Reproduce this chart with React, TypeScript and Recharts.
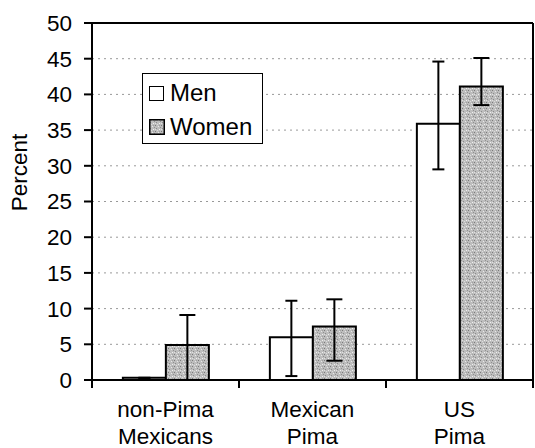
import React from 'react';
import { BarChart, Bar, XAxis, YAxis, CartesianGrid, ErrorBar, ReferenceLine } from 'recharts';

const categories = ['non-Pima\nMexicans', 'Mexican\nPima', 'US\nPima'];
const menValues = [0.3, 6.0, 35.9];
const womenValues = [4.9, 7.5, 41.1];
const menLow = [0.3, 0.55, 29.5];
const menHigh = [0.3, 11.1, 44.6];
const womenLow = [0, 2.7, 38.5];
const womenHigh = [9.1, 11.3, 45.1];
const yTicks = [0, 5, 10, 15, 20, 25, 30, 35, 40, 45, 50];

const data = categories.map((c, i) => ({
  name: c,
  men: menValues[i],
  women: womenValues[i],
  menErr: [menValues[i] - menLow[i], menHigh[i] - menValues[i]],
  womenErr: [womenValues[i] - womenLow[i], womenHigh[i] - womenValues[i]],
}));

const FONT = '"Liberation Sans", Arial, sans-serif';

const CatTick = (props: any) => {
  const { x, y, payload, index, visibleTicksCount } = props;
  const half = payload.offset || 73.5;
  const lines = String(payload.value).split('\n');
  const last = index === (visibleTicksCount ?? 3) - 1;
  return (
    <g>
      <line x1={x - half} y1={y} x2={x - half} y2={y + 8} stroke="#000" strokeWidth={2} />
      {last && <line x1={x + half} y1={y} x2={x + half} y2={y + 8} stroke="#000" strokeWidth={2} />}
      {lines.map((l, i) => (
        <text key={i} x={x} y={y + 37 + i * 27} textAnchor="middle" fontSize={22.5} fontFamily={FONT} fill="#000">
          {l}
        </text>
      ))}
    </g>
  );
};

const YLabel = (props: any) => {
  const vb = props.viewBox || { x: 0, y: 23, width: 92, height: 357 };
  const cx = vb.x + 27;
  const cy = vb.y + vb.height / 2 - 29;
  return (
    <text x={cx} y={cy} transform={`rotate(-90 ${cx} ${cy})`} textAnchor="middle" fontSize={22.5} fontFamily={FONT} fill="#000">
      Percent
    </text>
  );
};

const LegendBox = () => (
  <div
    style={{
      position: 'absolute',
      left: 142,
      top: 73,
      width: 121,
      height: 71,
      border: '1.5px solid #000',
      background: '#fff',
      fontFamily: FONT,
      fontSize: 24,
      color: '#000',
      boxSizing: 'border-box',
    }}
  >
    <div style={{ position: 'absolute', left: 6, top: 5, display: 'flex', alignItems: 'center' }}>
      <span style={{ display: 'inline-block', width: 13, height: 13, border: '1.5px solid #000', background: '#fff', marginRight: 6 }} />
      <span>Men</span>
    </div>
    <div style={{ position: 'absolute', left: 6, top: 39, display: 'flex', alignItems: 'center' }}>
      <svg width={16} height={16} style={{ marginRight: 5 }}>
        <rect x={0.75} y={0.75} width={14.5} height={14.5} fill="url(#stipple2)" stroke="#000" strokeWidth={1.5} />
      </svg>
      <span>Women</span>
    </div>
  </div>
);

const Stipple = ({ id }: { id: string }) => (
  <pattern id={id} width={6} height={6} patternUnits="userSpaceOnUse">
    <rect width={6} height={6} fill="#bdbdbd" />
    <rect x={0} y={0} width={1} height={1} fill="#7a7a7a" />
    <rect x={3} y={1} width={1} height={1} fill="#e8e8e8" />
    <rect x={1} y={3} width={1} height={1} fill="#8a8a8a" />
    <rect x={4} y={4} width={1} height={1} fill="#f0f0f0" />
    <rect x={5} y={2} width={1} height={1} fill="#909090" />
    <rect x={2} y={5} width={1} height={1} fill="#dcdcdc" />
    <rect x={4} y={0} width={1} height={1} fill="#a0a0a0" />
    <rect x={0} y={4} width={1} height={1} fill="#e0e0e0" />
  </pattern>
);

export default function App() {
  return (
    <div style={{ position: 'absolute', left: 0, top: 0, width: 535, height: 448, background: '#fff' }}>
      <svg width={0} height={0} style={{ position: 'absolute' }}>
        <defs>
          <Stipple id="stipple2" />
        </defs>
      </svg>
      <BarChart
        width={535}
        height={448}
        data={data}
        margin={{ top: 23, right: 0, bottom: 0, left: 0 }}
        barCategoryGap="21%"
        barGap={0}
      >
        <defs>
          <Stipple id="stipple" />
        </defs>
        <CartesianGrid yAxisId="left" vertical={false} stroke="#999" strokeDasharray="2 4" />
        <XAxis
          dataKey="name"
          height={68}
          tickLine={false}
          tickSize={0}
          tickMargin={0}
          interval={0}
          axisLine={{ stroke: '#000', strokeWidth: 2 }}
          tick={<CatTick />}
        />
        <YAxis
          yAxisId="left"
          width={92}
          domain={[0, 50]}
          ticks={yTicks}
          interval={0}
          tickSize={8}
          tickMargin={12}
          axisLine={{ stroke: '#000', strokeWidth: 2 }}
          tickLine={{ stroke: '#000', strokeWidth: 2 }}
          tick={{ fontSize: 22.5, fontFamily: FONT, fill: '#000' }}
          label={<YLabel />}
        />
        <YAxis
          yAxisId="right"
          orientation="right"
          width={2}
          domain={[0, 50]}
          tick={false}
          tickLine={false}
          axisLine={{ stroke: '#000', strokeWidth: 2 }}
        />
        <ReferenceLine yAxisId="left" y={50} stroke="#000" strokeWidth={2} />
        <Bar yAxisId="left" dataKey="men" fill="#fff" stroke="#000" strokeWidth={2} isAnimationActive={false}>
          <ErrorBar dataKey="menErr" width={6} stroke="#000" strokeWidth={2} />
        </Bar>
        <Bar yAxisId="left" dataKey="women" fill="url(#stipple)" stroke="#000" strokeWidth={2} isAnimationActive={false}>
          <ErrorBar dataKey="womenErr" width={8} stroke="#000" strokeWidth={2} />
        </Bar>
      </BarChart>
      <LegendBox />
    </div>
  );
}
